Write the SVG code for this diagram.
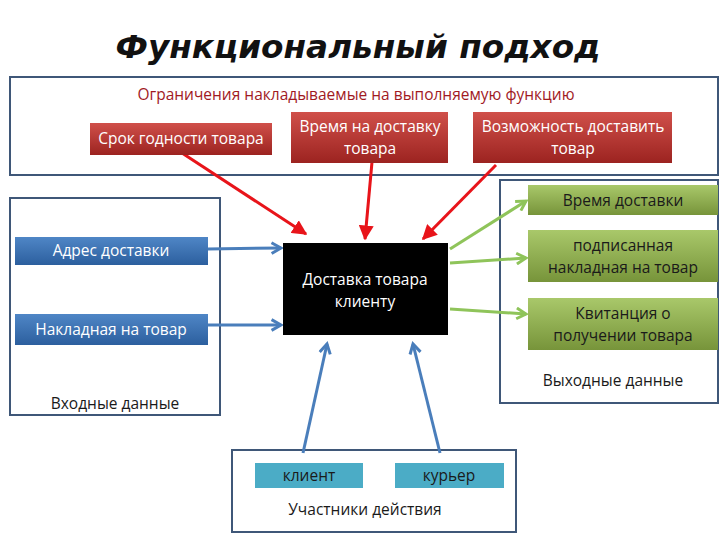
<svg xmlns="http://www.w3.org/2000/svg" width="720" height="540" viewBox="0 0 720 540">
<defs>
<linearGradient id="gRed" x1="0" y1="0" x2="0" y2="1"><stop offset="0" stop-color="#d0504a"/><stop offset="1" stop-color="#9c2320"/></linearGradient>
<linearGradient id="gBlue" x1="0" y1="0" x2="0" y2="1"><stop offset="0" stop-color="#4f86c6"/><stop offset="1" stop-color="#2c5f9e"/></linearGradient>
<linearGradient id="gGreen" x1="0" y1="0" x2="0" y2="1"><stop offset="0" stop-color="#a9c86a"/><stop offset="1" stop-color="#77943a"/></linearGradient>
<marker id="mRed" viewBox="0 0 10 10" refX="9" refY="5" markerWidth="5" markerHeight="5" orient="auto" markerUnits="strokeWidth"><path d="M0,0 L10,5 L0,10 Z" fill="#e8141a"/></marker>
<marker id="mBlue" viewBox="0 0 10 10" refX="8" refY="5" markerWidth="4.5" markerHeight="4.5" orient="auto" markerUnits="strokeWidth"><path d="M1,1 L8,5 L1,9" fill="none" stroke="#4a7ebb" stroke-width="2.2"/></marker>
<marker id="mGreen" viewBox="0 0 10 10" refX="8" refY="5" markerWidth="4.5" markerHeight="4.5" orient="auto" markerUnits="strokeWidth"><path d="M1,1 L8,5 L1,9" fill="none" stroke="#8fc45a" stroke-width="2.2"/></marker>
</defs>
<style>
.frame{fill:#ffffff;stroke:#3f5778;stroke-width:2}
.t{font-family:"Open Sans","Liberation Sans",sans-serif;font-size:15.5px;text-anchor:middle}
.w{fill:#ffffff}
.d{fill:#1a1a1a}
.red{stroke:#e8141a;stroke-width:3;fill:none;marker-end:url(#mRed)}
.blue{stroke:#4a7ebb;stroke-width:3;fill:none;marker-end:url(#mBlue)}
.green{stroke:#8fc45a;stroke-width:3;fill:none;marker-end:url(#mGreen)}
</style>
<rect width="720" height="540" fill="#ffffff"/>
<text x="358" y="58" font-family="'DejaVu Sans','Liberation Sans',sans-serif" font-size="32" font-weight="bold" font-style="italic" text-anchor="middle" fill="#111" textLength="485" lengthAdjust="spacingAndGlyphs">Функциональный подход</text>

<g id="constraints">
<rect class="frame" x="10" y="77" width="708" height="98"/>
<text class="t" x="356" y="100" fill="#a11a1f">Ограничения накладываемые на выполняемую функцию</text>
</g>
<g id="inputs">
<rect class="frame" x="10" y="198" width="210" height="217"/>
<text class="t d" x="115" y="409">Входные данные</text>
</g>
<g id="outputs">
<rect class="frame" x="500" y="180" width="218" height="223"/>
<text class="t d" x="613" y="386">Выходные данные</text>
</g>
<g id="participants">
<rect class="frame" x="232" y="450" width="284" height="82"/>
<text class="t d" x="365" y="515">Участники действия</text>
</g>

<g id="connectors">
<path class="red" d="M182,153 L306,234"/>
<path class="red" d="M372,162 L365,239"/>
<path class="red" d="M496,165 L423,239"/>
<path class="blue" d="M208,249 L281,248"/>
<path class="blue" d="M208,325 L281,325"/>
<path class="blue" d="M303,453 L327,344"/>
<path class="blue" d="M440,453 L413,344"/>
<path class="green" d="M450,249 L526,201"/>
<path class="green" d="M450,263 L526,258"/>
<path class="green" d="M450,309 L526,314"/>
</g>

<g id="srok"><rect x="90" y="123" width="182" height="32" fill="url(#gRed)"/><text class="t w" x="181" y="144">Срок годности товара</text></g>
<g id="vremya-dostavku"><rect x="291" y="112" width="157" height="51" fill="url(#gRed)"/><text class="t w" x="370" y="132">Время на доставку</text><text class="t w" x="370" y="154">товара</text></g>
<g id="vozmozhnost"><rect x="473" y="112" width="199" height="51" fill="url(#gRed)"/><text class="t w" x="573" y="132">Возможность доставить</text><text class="t w" x="573" y="154">товар</text></g>

<g id="adres"><rect x="15" y="237" width="193" height="28" fill="url(#gBlue)"/><text class="t w" x="111" y="256">Адрес доставки</text></g>
<g id="nakladnaya"><rect x="15" y="314" width="193" height="31" fill="url(#gBlue)"/><text class="t w" x="111" y="335">Накладная на товар</text></g>

<g id="dostavka"><rect x="283" y="243" width="165" height="92" fill="#000"/><text class="t w" x="365" y="285">Доставка товара</text><text class="t w" x="365" y="307">клиенту</text></g>

<g id="vremya"><rect x="528" y="185" width="190" height="30" fill="url(#gGreen)"/><text class="t d" x="623" y="206">Время доставки</text></g>
<g id="podpisannaya"><rect x="528" y="230" width="190" height="52" fill="url(#gGreen)"/><text class="t d" x="623" y="251">подписанная</text><text class="t d" x="623" y="273">накладная на товар</text></g>
<g id="kvitanciya"><rect x="528" y="298" width="190" height="52" fill="url(#gGreen)"/><text class="t d" x="623" y="319">Квитанция о</text><text class="t d" x="623" y="341">получении товара</text></g>

<g id="klient"><rect x="255" y="463" width="108" height="25" fill="#4bacc6"/><text class="t d" x="309" y="481">клиент</text></g>
<g id="kurier"><rect x="395" y="463" width="109" height="25" fill="#4bacc6"/><text class="t d" x="449" y="481">курьер</text></g>
</svg>
